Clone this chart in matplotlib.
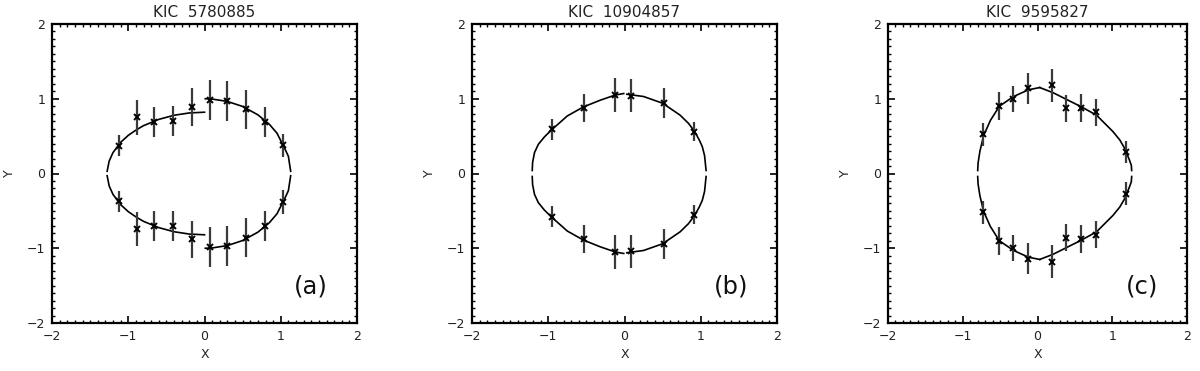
import matplotlib
matplotlib.use("Agg")
import matplotlib.pyplot as plt
from matplotlib.ticker import MultipleLocator, FixedLocator

plt.rcParams['font.family'] = ['DejaVu Sans']

titles = ["KIC  5780885", "KIC  10904857", "KIC  9595827"]
tags = ["(a)", "(b)", "(c)"]

# Panel (a) data points (upper half; lower half mirrored values)
a_x = [-1.12, -0.89, -0.66, -0.415, -0.17, 0.066, 0.30, 0.546, 0.787, 1.03]
a_yu = [0.37, 0.75, 0.69, 0.705, 0.89, 0.98, 0.97, 0.86, 0.69, 0.375]
a_yl = [-0.37, -0.745, -0.70, -0.705, -0.88, -0.98, -0.97, -0.86, -0.70, -0.38]
a_err = [0.14, 0.23, 0.20, 0.20, 0.25, 0.27, 0.27, 0.26, 0.20, 0.16]
# Panel (a) model curve: two pieces (left and right of x=0), upper half
a_cl_x = [-1.277, -1.25, -1.20, -1.10, -1.00, -0.90, -0.80, -0.60, -0.40, -0.20, 0.0]
a_cl_y = [0.03, 0.167, 0.28, 0.417, 0.51, 0.58, 0.64, 0.724, 0.779, 0.81, 0.82]
a_cr_x = [0.01, 0.10, 0.30, 0.50, 0.70, 0.85, 0.95, 1.05, 1.10, 1.13]
a_cr_y = [1.00, 0.996, 0.964, 0.897, 0.785, 0.659, 0.54, 0.34, 0.23, 0.03]

# Panel (b)
b_x = [-0.95, -0.535, -0.12, 0.09, 0.514, 0.916]
b_yu = [0.59, 0.88, 1.05, 1.04, 0.94, 0.56]
b_yl = [-0.58, -0.88, -1.05, -1.04, -0.94, -0.55]
b_err = [0.14, 0.185, 0.23, 0.22, 0.20, 0.13]
b_cl_x = [-1.21, -1.205, -1.18, -1.13, -1.05, -0.96, -0.75, -0.54, -0.32, -0.12, -0.01]
b_cl_y = [0.04, 0.15, 0.28, 0.39, 0.49, 0.58, 0.77, 0.89, 0.98, 1.05, 1.07]
b_cr_x = [0.03, 0.25, 0.50, 0.73, 0.84, 0.92, 0.98, 1.02, 1.05, 1.07]
b_cr_y = [1.06, 1.03, 0.94, 0.78, 0.67, 0.56, 0.45, 0.36, 0.24, 0.04]

# Panel (c)
c_x = [-0.724, -0.52, -0.33, -0.13, 0.19, 0.38, 0.58, 0.78, 1.18]
c_yu = [0.527, 0.90, 1.0, 1.14, 1.18, 0.87, 0.88, 0.82, 0.29]
c_yl = [-0.52, -0.90, -1.0, -1.14, -1.18, -0.86, -0.88, -0.82, -0.27]
c_err = [0.155, 0.19, 0.175, 0.21, 0.22, 0.18, 0.19, 0.18, 0.15]
c_cl_x = [-0.80, -0.795, -0.77, -0.72, -0.63, -0.51, -0.32, -0.12, 0.03]
c_cl_y = [0.04, 0.14, 0.30, 0.51, 0.71, 0.90, 1.03, 1.12, 1.15]
c_cr_x = [0.03, 0.21, 0.39, 0.59, 0.79, 1.01, 1.10, 1.17, 1.23, 1.255, 1.26]
c_cr_y = [1.15, 1.08, 0.99, 0.89, 0.78, 0.56, 0.45, 0.33, 0.18, 0.11, 0.04]

panels = [
    (a_x, a_yu, a_yl, a_err, [(a_cl_x, a_cl_y), (a_cr_x, a_cr_y)]),
    (b_x, b_yu, b_yl, b_err, [(b_cl_x, b_cl_y), (b_cr_x, b_cr_y)]),
    (c_x, c_yu, c_yl, c_err, [(c_cl_x, c_cl_y), (c_cr_x, c_cr_y)]),
]

fig = plt.figure(figsize=(12, 3.71), dpi=100)
W = 1200
H = 371
lefts = [52, 472, 888]
widths = [305, 305, 299]
for i, (px, yu, yl, err, curves) in enumerate(panels):
    ax = fig.add_axes([lefts[i] / W, 1 - 323 / H, widths[i] / W, 299 / H])
    for cx, cy in curves:
        ax.plot(cx, cy, color='black', lw=1.2)
        ax.plot(cx, [-v for v in cy], color='black', lw=1.2)
    for ys in (yu, yl):
        ax.errorbar(px, ys, yerr=err, fmt='none', ecolor='#3a3a3a', elinewidth=1.6, capsize=0)
        ax.plot(px, ys, linestyle='none', marker='x', color='black', ms=4.5, mew=1.4)
    ax.set_xlim(-2, 2)
    ax.set_ylim(-2, 2)
    ax.xaxis.set_major_locator(FixedLocator([-2, -1, 0, 1, 2]))
    ax.yaxis.set_major_locator(FixedLocator([-2, -1, 0, 1, 2]))
    ax.xaxis.set_minor_locator(MultipleLocator(0.1))
    ax.yaxis.set_minor_locator(MultipleLocator(0.1))
    ax.set_xticklabels(['\u22122', '\u22121', '0', '1', '2'])
    ax.set_yticklabels(['\u22122', '\u22121', '0', '1', '2'])
    ax.tick_params(which='both', direction='in', top=True, right=True, labelsize=9, color='black',
                   labelcolor='#222222')
    ax.tick_params(which='major', length=5, width=1.2, pad=5)
    ax.tick_params(which='minor', length=2.5, width=1.0)
    for s in ax.spines.values():
        s.set_linewidth(1.6)
    ax.set_title(titles[i], fontsize=11, pad=5, color='#222222')
    ax.set_xlabel('X', fontsize=9, labelpad=4, color='#222222')
    ax.set_ylabel('Y', fontsize=9, labelpad=8, color='#222222')
    ax.text(0.905, 0.10, tags[i], transform=ax.transAxes, fontsize=17.5, ha='right', va='baseline',
            color='#111111')

fig.savefig('out.png', dpi=100)
